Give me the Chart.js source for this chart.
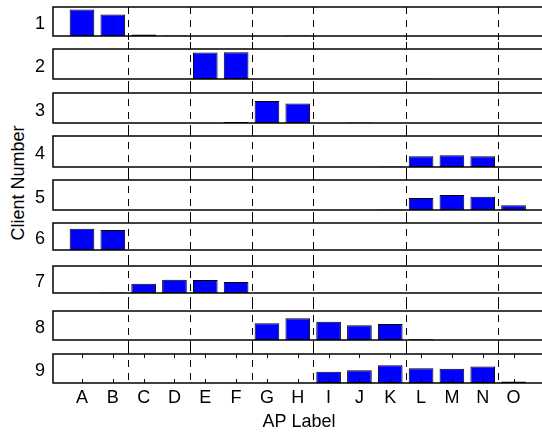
<!DOCTYPE html>
<html>
<head>
<meta charset="utf-8">
<script src="https://cdn.jsdelivr.net/npm/chart.js@4"></script>
<style>
  html, body { margin: 0; padding: 0; background: #fff; overflow: hidden; }
  #wrap { position: relative; width: 542px; height: 437px; overflow: hidden; }
  #wrap canvas { position: absolute; left: 0; }
  #ylab {
    position: absolute; left: 18px; top: 183px;
    font: 18px "Liberation Sans", Arial, sans-serif; color: #000;
    white-space: nowrap;
    transform: translate(-50%, -50%) rotate(-90deg);
  }
</style>
</head>
<body>
<div id="wrap">
  <div id="ylab">Client Number</div>
</div>
<script>
// AP labels along the x axis, one panel per client
const apLabels = ['A', 'B', 'C', 'D', 'E', 'F', 'G', 'H', 'I', 'J', 'K', 'L', 'M', 'N', 'O'];
const clientNumbers = [1, 2, 3, 4, 5, 6, 7, 8, 9];

// relative bar heights (A..O)
const client1 = [0.91, 0.74, 0.05, 0.02, 0, 0, 0, 0.02, 0, 0, 0, 0, 0, 0, 0];
const client2 = [0, 0, 0, 0, 0.88, 0.89, 0, 0, 0, 0, 0, 0.02, 0, 0, 0];
const client3 = [0, 0, 0.01, 0.01, 0.01, 0.03, 0.73, 0.65, 0, 0.02, 0, 0, 0, 0, 0];
const client4 = [0, 0, 0, 0, 0, 0, 0, 0, 0.01, 0.01, 0.02, 0.35, 0.38, 0.35, 0];
const client5 = [0, 0, 0, 0, 0, 0, 0, 0, 0, 0, 0.02, 0.40, 0.50, 0.44, 0.16];
const client6 = [0.79, 0.74, 0, 0, 0, 0, 0, 0, 0, 0, 0, 0, 0, 0, 0];
const client7 = [0, 0.02, 0.34, 0.49, 0.48, 0.41, 0, 0, 0, 0, 0, 0, 0, 0, 0];
const client8 = [0, 0, 0, 0, 0, 0, 0.58, 0.75, 0.63, 0.51, 0.55, 0.03, 0, 0, 0];
const client9 = [0, 0, 0, 0, 0, 0, 0, 0, 0.39, 0.44, 0.61, 0.51, 0.49, 0.57, 0.05];
const clientSeries = [client1, client2, client3, client4, client5, client6, client7, client8, client9];

// dashed separators between AP groups
const apBounds = [2.5, 4.5, 6.5, 8.5, 11.5, 14.5];

// panel placement on the page (px)
const panelTop = [7, 49, 93, 136, 180, 223, 266, 311, 354];
const panelBottom = [36, 79, 123, 167, 210, 250, 293, 340, 383];
const pageH = 437, canvasW = 545, plotLeft = 53;

Chart.defaults.font.family = '"Liberation Sans", Arial, sans-serif';
Chart.defaults.font.size = 18;
Chart.defaults.color = '#000';

const panelDecor = {
  id: 'panelDecor',
  afterDatasetsDraw(chart, args, opts) {
    const ctx = chart.ctx, a = chart.chartArea, xs = chart.scales.x;
    ctx.save();
    // dashed group separators, running through the gaps
    ctx.strokeStyle = '#000';
    ctx.lineWidth = 1;
    ctx.setLineDash([7, 6]);
    const y0 = opts.first ? a.top : 0;
    const y1 = opts.last ? a.bottom : chart.height;
    apBounds.forEach(v => {
      const px = Math.round(xs.getPixelForValue(v)) + 0.5;
      ctx.beginPath();
      ctx.moveTo(px, y0);
      ctx.lineTo(px, y1);
      ctx.stroke();
    });
    ctx.setLineDash([]);
    // inward tick marks on the bottom panel only
    if (opts.last) {
      apLabels.forEach((_, i) => {
        const px = Math.round(xs.getPixelForValue(i + 1)) + 0.5;
        ctx.beginPath();
        ctx.moveTo(px, a.top); ctx.lineTo(px, a.top + 4);
        ctx.moveTo(px, a.bottom); ctx.lineTo(px, a.bottom - 4);
        ctx.stroke();
      });
    }
    // panel box
    ctx.lineWidth = 1.5;
    ctx.strokeRect(a.left, a.top, a.right - a.left, a.bottom - a.top);
    // client number to the left
    ctx.fillStyle = '#000';
    ctx.font = '18px "Liberation Sans", Arial, sans-serif';
    ctx.textAlign = 'center';
    ctx.textBaseline = 'middle';
    ctx.fillText(String(opts.client), 40, (a.top + a.bottom) / 2 + 3);
    ctx.restore();
  }
};

function drawPanels() {
  const wrap = document.getElementById('wrap');
  clientSeries.forEach((series, i) => {
    const first = i === 0, last = i === clientSeries.length - 1;
    const cTop = first ? 0 : Math.floor((panelBottom[i - 1] + panelTop[i]) / 2);
    const cBottom = last ? pageH : Math.floor((panelBottom[i] + panelTop[i + 1]) / 2);
    const canvas = document.createElement('canvas');
    canvas.width = canvasW;
    canvas.height = cBottom - cTop;
    canvas.style.top = cTop + 'px';
    wrap.appendChild(canvas);

    const xScale = {
      type: 'linear',
      min: 0.06,
      max: 16.02,
      offset: false,
      display: last,
      grid: { display: false, drawTicks: false },
      border: { display: false },
      afterBuildTicks: s => { s.ticks = apLabels.map((_, k) => ({ value: k + 1 })); },
      ticks: {
        autoSkip: false,
        maxRotation: 0,
        padding: 4,
        callback: v => apLabels[v - 1]
      },
      title: {
        display: true,
        text: 'AP Label',
        padding: { top: 4, bottom: 4 }
      }
    };
    if (last) xScale.afterFit = s => { s.height = pageH - panelBottom[i]; };

    new Chart(canvas.getContext('2d'), {
      type: 'bar',
      data: {
        datasets: [{
          data: apLabels.map((_, k) => ({ x: k + 1, y: series[k] })),
          backgroundColor: '#0000ff',
          borderColor: '#000',
          borderWidth: 1,
          borderSkipped: false,
          barPercentage: 0.8,
          categoryPercentage: 1
        }]
      },
      options: {
        responsive: false,
        animation: false,
        events: [],
        layout: {
          padding: {
            left: plotLeft,
            right: 0,
            top: panelTop[i] - cTop,
            bottom: last ? 0 : cBottom - panelBottom[i]
          }
        },
        plugins: {
          legend: { display: false },
          tooltip: { enabled: false },
          panelDecor: { client: clientNumbers[i], first: first, last: last }
        },
        scales: {
          x: xScale,
          y: { display: false, min: 0, max: 1 }
        }
      },
      plugins: [panelDecor]
    });
  });
}

window.onload = function () {
  drawPanels();
};
</script>
</body>
</html>
